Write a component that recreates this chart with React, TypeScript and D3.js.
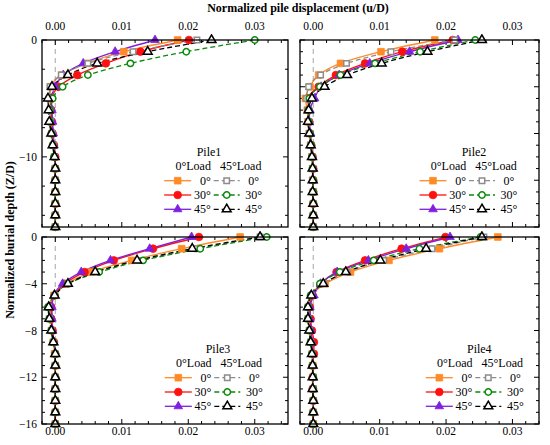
import React from 'react';
import * as d3 from 'd3';

// depths (Z/D), one point per diameter
const depths = [0, -1, -2, -3, -4, -5, -6, -7, -8, -9, -10, -11, -12, -13, -14, -15, -16];

// Pile1
const p1L0deg0 = [0.0184, 0.0103, 0.0047, 0.0010, -0.0007, -0.0008, -0.0007, -0.0006, -0.0005, -0.0003, -0.0001, 0, 0, 0, 0, 0, 0];
const p1L0deg30 = [0.0201, 0.0128, 0.0076, 0.0033, 0.0005, -0.0005, -0.0006, -0.0005, -0.0004, -0.0002, 0, 0, 0, 0, 0, 0, 0];
const p1L0deg45 = [0.0150, 0.0090, 0.0042, 0.0012, 0.0000, -0.0006, -0.0005, -0.0004, -0.0003, -0.0002, -0.0001, 0, 0, 0, 0, 0, 0];
const p1L45deg0 = [0.0213, 0.0117, 0.0049, 0.0009, -0.0008, -0.0009, -0.0008, -0.0007, -0.0005, -0.0003, -0.0001, 0, 0, 0, 0, 0, 0];
const p1L45deg30 = [0.0300, 0.0197, 0.0113, 0.0049, 0.0011, -0.0004, -0.0008, -0.0008, -0.0006, -0.0004, -0.0002, 0, 0, 0, 0, 0, 0];
const p1L45deg45 = [0.0235, 0.0139, 0.0063, 0.0019, -0.0005, -0.0011, -0.0010, -0.0009, -0.0006, -0.0004, -0.0001, 0, 0, 0, 0, 0, 0];

// Pile2
const p2L0deg0 = [0.0183, 0.0102, 0.0041, 0.0008, -0.0005, -0.0012, -0.0009, -0.0008, -0.0006, -0.0004, -0.0002, -0.0001, -0.0001, 0, 0, 0, 0];
const p2L0deg30 = [0.0210, 0.0134, 0.0078, 0.0034, 0.0008, -0.0008, -0.0007, -0.0006, -0.0005, -0.0003, -0.0001, 0, 0, 0, 0, 0, 0];
const p2L0deg45 = [0.0218, 0.0145, 0.0085, 0.0039, 0.0012, 0.0002, -0.0005, -0.0006, -0.0004, -0.0003, -0.0001, 0, 0, 0, 0, 0, 0];
const p2L45deg0 = [0.0213, 0.0117, 0.0050, 0.0011, -0.0007, -0.0010, -0.0008, -0.0007, -0.0006, -0.0004, -0.0002, -0.0001, -0.0001, 0, 0, 0, 0];
const p2L45deg30 = [0.0244, 0.0161, 0.0093, 0.0041, 0.0010, -0.0006, -0.0007, -0.0007, -0.0005, -0.0003, -0.0002, -0.0001, 0, 0, 0, 0, 0];
const p2L45deg45 = [0.0254, 0.0172, 0.0103, 0.0051, 0.0017, -0.0002, -0.0007, -0.0008, -0.0006, -0.0004, -0.0002, -0.0001, -0.0001, -0.0001, 0, 0, 0];

// Pile3
const p3L0deg0 = [0.0278, 0.0190, 0.0115, 0.0054, 0.0017, -0.0002, -0.0008, -0.0007, -0.0005, -0.0003, -0.0001, 0, 0, 0, 0, 0, 0];
const p3L0deg30 = [0.0216, 0.0147, 0.0088, 0.0044, 0.0014, -0.0001, -0.0006, -0.0006, -0.0004, -0.0002, 0, 0, 0, 0, 0, 0, 0];
const p3L0deg45 = [0.0205, 0.0142, 0.0083, 0.0039, 0.0011, -0.0002, -0.0005, -0.0005, -0.0004, -0.0002, 0, 0, 0, 0, 0, 0, 0];
const p3L45deg0 = [0.0308, 0.0213, 0.0127, 0.0062, 0.0019, -0.0001, -0.0010, -0.0009, -0.0006, -0.0003, 0, 0, 0, 0, 0, 0, 0];
const p3L45deg30 = [0.0318, 0.0218, 0.0132, 0.0066, 0.0019, -0.0001, -0.0011, -0.0009, -0.0006, -0.0003, 0, 0, 0, 0, 0, 0, 0];
const p3L45deg45 = [0.0308, 0.0206, 0.0123, 0.0060, 0.0019, -0.0001, -0.0010, -0.0009, -0.0006, -0.0003, 0, 0, 0, 0, 0, 0, 0];

// Pile4
const p4L0deg0 = [0.0278, 0.0190, 0.0114, 0.0056, 0.0018, -0.0002, -0.0007, -0.0007, -0.0005, -0.0003, -0.0001, -0.0001, 0, 0, 0, 0, 0];
const p4L0deg30 = [0.0199, 0.0133, 0.0078, 0.0035, 0.0011, -0.0001, -0.0005, -0.0004, -0.0002, 0.0001, 0.0001, -0.0001, -0.0001, -0.0001, 0, 0, 0];
const p4L0deg45 = [0.0206, 0.0140, 0.0083, 0.0036, 0.0011, 0.0001, -0.0005, -0.0005, -0.0003, -0.0002, -0.0001, -0.0001, 0, 0, 0, 0, 0];
const p4L45deg0 = [0.0257, 0.0179, 0.0106, 0.0051, 0.0016, -0.0003, -0.0008, -0.0008, -0.0006, -0.0004, -0.0002, -0.0001, 0, 0, 0, 0, 0];
const p4L45deg30 = [0.0252, 0.0160, 0.0091, 0.0040, 0.0010, -0.0004, -0.0008, -0.0008, -0.0006, -0.0004, -0.0002, -0.0001, 0, 0, 0, 0, 0];
const p4L45deg45 = [0.0254, 0.0170, 0.0101, 0.0049, 0.0015, -0.0003, -0.0008, -0.0008, -0.0006, -0.0004, -0.0002, -0.0001, -0.0001, -0.0001, 0, 0, 0];

const pileNames = ['Pile1', 'Pile2', 'Pile3', 'Pile4'];
const seriesLabels = ['0°', '30°', '45°'];
const xTickLabels = [0, 0.01, 0.02, 0.03];

const FONT = 'Liberation Serif';

// style of each series: 0°Load solid + filled, 45°Load dashed + open
const styles = [
  { color: '#FF8A26', shape: d3.symbolSquare, size: 44, open: false, dash: null },
  { color: '#FF1010', shape: d3.symbolCircle, size: 46, open: false, dash: null },
  { color: '#7F1FE0', shape: d3.symbolTriangle, size: 32, open: false, dash: null },
  { color: '#8C8C8C', shape: d3.symbolSquare, size: 30, open: true, dash: '5,3' },
  { color: '#0A8A0A', shape: d3.symbolCircle, size: 32, open: true, dash: '5,3' },
  { color: '#000000', shape: d3.symbolTriangle, size: 34, open: true, dash: '5,3' },
];

const panels = [
  { name: pileNames[0], x0: 42, x1: 288, y0: 40, y1: 227, xMax: 0.035, top: true, left: true, yMinor: 2.5, legX: 177.7, titleX: 209,
    series: [p1L0deg0, p1L0deg30, p1L0deg45, p1L45deg0, p1L45deg30, p1L45deg45] },
  { name: pileNames[1], x0: 300, x1: 539, y0: 40, y1: 227, xMax: 0.034, top: true, left: false, yMinor: 1, legX: 433, titleX: 474,
    series: [p2L0deg0, p2L0deg30, p2L0deg45, p2L45deg0, p2L45deg30, p2L45deg45] },
  { name: pileNames[2], x0: 42, x1: 288, y0: 237, y1: 424, xMax: 0.035, top: false, left: true, yMinor: 1, legX: 178.3, titleX: 218,
    series: [p3L0deg0, p3L0deg30, p3L0deg45, p3L45deg0, p3L45deg30, p3L45deg45] },
  { name: pileNames[3], x0: 300, x1: 539, y0: 237, y1: 424, xMax: 0.034, top: false, left: false, yMinor: 1, legX: 439.3, titleX: 479.3,
    series: [p4L0deg0, p4L0deg30, p4L0deg45, p4L45deg0, p4L45deg30, p4L45deg45] },
];

const Marker: React.FC<{ s: typeof styles[0]; x: number; y: number }> = ({ s, x, y }) => {
  const d = d3.symbol().type(s.shape).size(s.size)() as string;
  return (
    <path
      d={d}
      transform={`translate(${x},${y})`}
      fill={s.open ? '#fff' : s.color}
      stroke={s.color}
      strokeWidth={s.open ? 1.5 : 0.8}
    />
  );
};

const Panel: React.FC<{ p: typeof panels[0] }> = ({ p }) => {
  const x = d3.scaleLinear().domain([-0.002, p.xMax]).range([p.x0, p.x1]);
  const y = d3.scaleLinear().domain([-16, 0]).range([p.y1, p.y0]);

  const xMinor = d3.range(-0.002, p.xMax + 1e-9, 0.002);
  const yTicks = d3.range(0, -16 - 1e-9, -p.yMinor);
  const yMajorStep = p.top && p.left ? 10 : 4;
  const yLabels = p.top && p.left ? [0, -10] : [0, -4, -8, -12, -16];
  const isMajorY = (v: number) => Math.abs(v / yMajorStep - Math.round(v / yMajorStep)) < 1e-6;
  const isMajorX = (v: number) => Math.abs(v / 0.01 - Math.round(v / 0.01)) < 1e-6;

  const line = d3.line<number>()
    .x((v) => x(v))
    .y((_, i) => y(depths[i]))
    .curve(d3.curveMonotoneY);

  const clipId = `clip-${p.name}`;
  const rowY = (i: number) => p.y0 + 140.7 + i * 14.3;

  return (
    <g>
      <defs>
        <clipPath id={clipId}>
          <rect x={p.x0} y={p.y0 - 6} width={p.x1 - p.x0} height={p.y1 - p.y0 + 12} />
        </clipPath>
      </defs>

      {/* zero reference */}
      <line x1={x(0)} x2={x(0)} y1={p.y0} y2={p.y1} stroke="#b5b5b5" strokeWidth={1.2} strokeDasharray="5,4" />

      {/* x ticks on top and bottom edges, inward */}
      {xMinor.map((v) => {
        const len = isMajorX(v) ? 5 : 3;
        return (
          <g key={`xt${v}`}>
            <line x1={x(v)} x2={x(v)} y1={p.y0} y2={p.y0 + len} stroke="#000" strokeWidth={1} />
            <line x1={x(v)} x2={x(v)} y1={p.y1} y2={p.y1 - len} stroke="#000" strokeWidth={1} />
          </g>
        );
      })}
      {xTickLabels.map((v) => (
        <text key={`xl${v}`} x={x(v)} y={p.top ? 30 : 435} textAnchor="middle" fontSize={11.5} fontFamily={FONT}>
          {d3.format('.2f')(v)}
        </text>
      ))}

      {/* y ticks on left and right edges, inward */}
      {yTicks.map((v) => {
        const len = isMajorY(v) ? 5 : 3;
        return (
          <g key={`yt${v}`}>
            <line x1={p.x0} x2={p.x0 + len} y1={y(v)} y2={y(v)} stroke="#000" strokeWidth={1} />
            <line x1={p.x1} x2={p.x1 - len} y1={y(v)} y2={y(v)} stroke="#000" strokeWidth={1} />
          </g>
        );
      })}
      {p.left && yLabels.map((v) => (
        <text key={`yl${v}`} x={p.x0 - 5} y={y(v) + 4} textAnchor="end" fontSize={11.5} fontFamily={FONT}>
          {v === 0 ? '0' : `−${Math.abs(v)}`}
        </text>
      ))}

      {/* series */}
      <g clipPath={`url(#${clipId})`}>
        {p.series.map((vals, k) => (
          <path key={`l${k}`} d={line(vals) as string} fill="none" stroke={styles[k].color}
            strokeWidth={1.3} strokeDasharray={styles[k].dash ?? undefined} />
        ))}
        {p.series.map((vals, k) => (
          <g key={`m${k}`}>
            {vals.map((v, i) => <Marker key={i} s={styles[k]} x={x(v)} y={y(depths[i])} />)}
          </g>
        ))}
      </g>

      <rect x={p.x0} y={p.y0} width={p.x1 - p.x0} height={p.y1 - p.y0} fill="none" stroke="#000" strokeWidth={1.3} />

      {/* legend */}
      <g>
        <text x={p.titleX} y={p.y0 + 115.5} textAnchor="middle" fontFamily={FONT} fontSize={12}>{p.name}</text>
        <text x={p.legX + 15.5} y={p.y0 + 129.7} textAnchor="middle" fontFamily={FONT} fontSize={12}>0°Load</text>
        <text x={p.legX + 63} y={p.y0 + 129.7} textAnchor="middle" fontFamily={FONT} fontSize={12}>45°Load</text>
        {seriesLabels.map((lab, i) => {
          const s0 = styles[i];
          const s1 = styles[i + 3];
          const yy = rowY(i);
          const m2 = p.legX + 49;
          return (
            <g key={lab}>
              <line x1={p.legX - 13.5} x2={p.legX + 13.5} y1={yy} y2={yy} stroke={s0.color} strokeWidth={1.3} />
              <Marker s={s0} x={p.legX} y={yy} />
              <text x={p.legX + 33} y={yy + 4} textAnchor="end" fontFamily={FONT} fontSize={12}>{lab}</text>
              <line x1={m2 - 13} x2={m2 + 13} y1={yy} y2={yy} stroke={s1.color} strokeWidth={1.3} strokeDasharray="5,3" />
              <Marker s={s1} x={m2} y={yy} />
              <text x={p.legX + 76} y={yy + 4} textAnchor="middle" fontFamily={FONT} fontSize={12}>{lab}</text>
            </g>
          );
        })}
      </g>
    </g>
  );
};

const App: React.FC = () => {
  return (
    <svg width={550} height={445} style={{ position: 'absolute', left: 0, top: 0, background: '#fff' }}>
      <rect width={550} height={445} fill="#fff" />
      <text x={298} y={12} textAnchor="middle" fontSize={12} fontWeight="bold" fontFamily={FONT}>
        Normalized pile displacement (u/D)
      </text>
      <text transform="translate(14,240) rotate(-90)" textAnchor="middle" fontSize={12} fontWeight="bold" fontFamily={FONT}>
        Normalized burial depth (Z/D)
      </text>
      {panels.map((p) => <Panel key={p.name} p={p} />)}
    </svg>
  );
};

export default App;
